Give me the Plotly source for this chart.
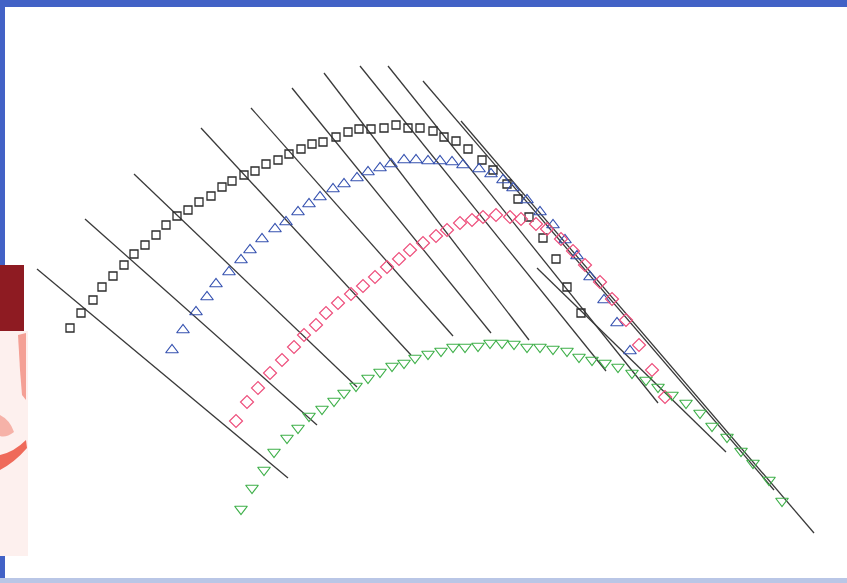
import plotly.graph_objects as go

# ---- data (y grows downward) ----
sq_x = [70, 81, 93, 102, 113, 124, 134, 145, 156, 166, 177, 188, 199, 211, 222, 232, 244, 255, 266, 278,
        289, 301, 312, 323, 336, 348, 359, 371, 384, 396, 408, 420, 433, 444, 456, 468, 482, 493, 507, 518,
        529, 543, 556, 567, 581]
sq_y = [328, 313, 300, 287, 276, 265, 254, 245, 235, 225, 216, 210, 202, 196, 187, 181, 175, 171, 164, 160,
        154, 149, 144, 142, 137, 132, 129, 129, 128, 125, 128, 128, 131, 137, 141, 149, 160, 170, 184, 199,
        217, 238, 259, 287, 313]

up_x = [172, 183, 196, 207, 216, 229, 241, 250, 262, 275, 286, 298, 309, 320, 333, 344, 357, 368, 380, 391,
        404, 416, 428, 440, 452, 463, 479, 491, 503, 513, 527, 540, 553, 565, 577, 590, 604, 617, 630]
up_y = [350, 330, 312, 297, 284, 272, 260, 250, 239, 229, 222, 212, 204, 197, 189, 184, 178, 172, 168, 164,
        160, 160, 161, 161, 162, 165, 169, 174, 180, 188, 200, 212, 225, 240, 256, 277, 300, 323, 351]

dia_x = [236, 247, 258, 270, 282, 294, 304, 316, 326, 338, 351, 363, 375, 387, 399, 410, 423, 436, 447, 460,
         472, 483, 496, 510, 521, 536, 547, 561, 573, 585, 600, 612, 626, 639, 652, 665]
dia_y = [421, 402, 388, 373, 360, 347, 335, 325, 313, 303, 294, 286, 277, 267, 259, 250, 243, 236, 230, 223,
         220, 217, 215, 217, 219, 224, 229, 239, 251, 265, 282, 299, 320, 345, 370, 397]

dn_x = [241, 252, 264, 274, 287, 298, 309, 322, 334, 344, 356, 368, 380, 392, 404, 415, 428, 441, 453, 465,
        478, 490, 502, 514, 527, 540, 553, 567, 579, 592, 605, 618, 632, 646, 658, 672, 686, 700, 712, 727,
        741, 753, 769, 782]
dn_y = [509, 488, 470, 452, 438, 428, 416, 409, 401, 393, 386, 378, 372, 366, 363, 358, 354, 351, 347, 347,
        346, 343, 343, 344, 347, 347, 349, 351, 357, 360, 363, 367, 373, 380, 387, 395, 403, 413, 426, 437,
        451, 463, 480, 501]

line_x0 = [37, 85, 134, 201, 251, 292, 324, 360, 388, 423, 461, 537]
line_y0 = [269, 219, 174, 128, 108, 88, 73, 66, 66, 81, 121, 268]
line_x1 = [288, 317, 357, 411, 453, 491, 529, 606, 658, 774, 814, 726]
line_y1 = [478, 425, 387, 355, 336, 333, 340, 371, 403, 490, 533, 452]

W, H = 847, 583

fig = go.Figure()

# straight line segments
lx, ly = [], []
for a, b, c, d in zip(line_x0, line_y0, line_x1, line_y1):
    lx += [a, c, None]
    ly += [b, d, None]
fig.add_trace(go.Scatter(x=lx, y=ly, mode="lines",
                         line=dict(color="#3a3a3a", width=1.3), hoverinfo="skip"))

fig.add_trace(go.Scatter(x=sq_x, y=sq_y, mode="markers",
                         marker=dict(symbol="square-open", size=8, color="#2b2b2b",
                                     line=dict(width=1.3))))
fig.add_trace(go.Scatter(x=up_x, y=up_y, mode="markers",
                         marker=dict(symbol="triangle-up-open", size=11, color="#3652b0",
                                     line=dict(width=1.2))))
fig.add_trace(go.Scatter(x=dia_x, y=dia_y, mode="markers",
                         marker=dict(symbol="diamond-open", size=10, color="#ee4f7c",
                                     line=dict(width=1.2))))
fig.add_trace(go.Scatter(x=dn_x, y=dn_y, mode="markers",
                         marker=dict(symbol="triangle-down-open", size=11, color="#3fb04a",
                                     line=dict(width=1.2))))

shapes = [
    # blue frame strips
    dict(type="rect", xref="x", yref="y", x0=0, x1=W, y0=0, y1=7,
         fillcolor="#4262c6", line=dict(width=0), layer="below"),
    dict(type="rect", xref="x", yref="y", x0=0, x1=5, y0=0, y1=H,
         fillcolor="#4262c6", line=dict(width=0), layer="below"),
    dict(type="rect", xref="x", yref="y", x0=0, x1=W, y0=578, y1=H,
         fillcolor="#b9c6e6", line=dict(width=0), layer="below"),
    # red label at left
    dict(type="rect", xref="x", yref="y", x0=0, x1=24, y0=265, y1=331,
         fillcolor="#8e1b22", line=dict(width=0), layer="below"),
    dict(type="rect", xref="x", yref="y", x0=0, x1=28, y0=331, y1=556,
         fillcolor="#fdf0ee", line=dict(width=0), layer="below"),
    dict(type="path", xref="x", yref="y",
         path="M 0 455 Q 14 452 26 440 L 27 448 Q 15 462 0 470 Z",
         fillcolor="#ef6a5a", line=dict(width=0), layer="below"),
    dict(type="path", xref="x", yref="y",
         path="M 18 335 L 26 333 L 26 400 L 22 395 L 20 370 Z",
         fillcolor="#f4a095", line=dict(width=0), layer="below"),
    dict(type="path", xref="x", yref="y",
         path="M 0 415 Q 10 420 14 432 Q 6 438 0 436 Z",
         fillcolor="#f6b2a8", line=dict(width=0), layer="below"),
]

fig.update_layout(
    width=W, height=H,
    margin=dict(l=0, r=0, t=0, b=0),
    paper_bgcolor="white", plot_bgcolor="white",
    showlegend=False,
    shapes=shapes,
    xaxis=dict(range=[0, W], visible=False, fixedrange=True),
    yaxis=dict(range=[H, 0], visible=False, fixedrange=True),
)

fig.write_html("out.html", config={"displayModeBar": False},
               post_script="document.body.style.margin='0';document.body.style.overflow='hidden';")
